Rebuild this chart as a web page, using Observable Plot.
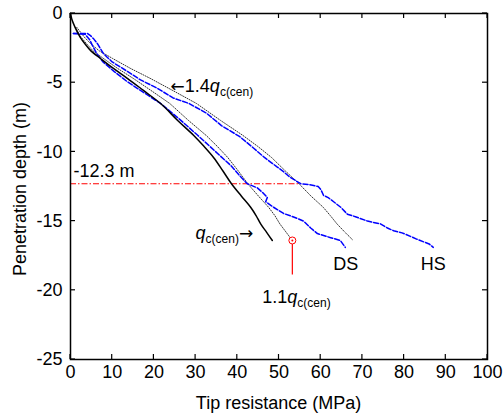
<!DOCTYPE html>
<html><head><meta charset="utf-8">
<script src="https://cdn.jsdelivr.net/npm/d3@7"></script>
<script src="https://cdn.jsdelivr.net/npm/@observablehq/plot@0.6"></script>
<style>html,body{margin:0;padding:0;background:#fff}</style>
</head><body><div id="chart"></div>
<script>
// axis ticks
const xTicks = [0,10,20,30,40,50,60,70,80,90,100];
const yTicks = [0,-5,-10,-15,-20,-25];

// qc(cen) (black solid)
const qcDepth = [0,-0.4,-1.0,-1.7,-2.2,-2.7,-3.25,-3.97,-4.7,-5.56,-6.5,-7.73,-8.8,-9.6,-10.4,-11.4,-12.3,-13.2,-14.0,-14.6,-15.2,-15.8,-16.4];
const qcCen   = [0,0.3,1.1,2.3,3.5,4.9,7.2,10.3,13.7,17.5,21.6,25.7,29.5,32.0,34.3,36.6,38.6,41.0,43.2,44.5,45.6,47.0,48.4];

// 1.4 qc(cen) and 1.1 qc(cen) (dotted)
const qfDepth = [-1.0,-1.7,-2.2,-2.7,-3.25,-3.97,-4.7,-5.56,-6.5,-7.73,-8.8,-9.6,-10.4,-11.4,-12.3,-13.2,-14.0,-14.6,-15.2,-15.8,-16.4];
const q14 = [1.5,3.3,4.9,6.9,10.1,14.4,19.2,24.5,30.2,36.0,41.3,44.9,48.2,51.6,54.8,57.7,60.6,62.3,63.9,65.8,67.8];
const q11 = [1.2,2.5,3.9,5.4,7.9,11.3,15.1,19.3,23.8,28.3,32.5,35.2,37.7,40.3,42.5,45.1,47.5,49.0,50.2,51.7,53.2];

// HS (blue dashed)
const hsX = [0.7,4.1,4.8,5.6,6.5,7.9,10.0,13.2,16.8,20.8,24.6,28.4,32.6,36.2,40.6,43.8,46.5,49.6,51.0,52.5,55.2,57.0,59.4,60.0,60.7,61.8,63.1,64.8,66.4,68.5,71.2,74.3,76.0,77.5,79.5,81.5,83.0,84.7,86.0,87.0];
const hsY = [-1.45,-1.45,-1.6,-1.85,-2.2,-2.9,-3.5,-4.1,-4.8,-5.4,-6.1,-6.5,-7.2,-8.1,-8.9,-9.7,-10.4,-11.1,-11.4,-11.8,-12.3,-12.35,-12.5,-12.7,-13.15,-13.3,-13.6,-14.0,-14.5,-14.7,-15.0,-15.2,-15.5,-15.7,-15.85,-16.1,-16.3,-16.5,-16.65,-16.9];

// DS (blue dashed)
const dsX = [0.7,3.5,4.6,5.4,6.3,7.8,10.5,13.5,17.5,21.6,26.0,30.5,34.5,38.5,40.5,42.4,44.8,46.3,47.2,46.8,48.7,51.1,53.5,55.9,57.6,59.2,62.4,64.7,65.9];
const dsY = [-1.45,-1.5,-1.9,-2.4,-2.9,-3.5,-4.2,-4.9,-5.7,-6.5,-7.6,-8.8,-9.9,-11.0,-11.7,-12.3,-12.6,-13.0,-13.3,-13.6,-14.0,-14.45,-14.7,-15.0,-15.5,-15.9,-16.2,-16.4,-16.9];

// critical depth line and leader
const critDepth = [-12.3];
const critEnd = [55.3];
const leaderDepth = [-18.9];

// annotation labels
const labelText   = ["←1.4q_c(cen)", "q_c(cen)→", "1.1q_c(cen)", "DS", "HS", "-12.3 m"];
const labelX      = [24.0, 43.8, 54.2, 66.0, 87.0, 0.7];
const labelY      = [-5.27, -15.9, -20.5, -18.1, -18.1, -11.4];
const labelAnchor = ["start", "end", "middle", "middle", "middle", "start"];

const toPts = (xs, ys) => xs.map((x, i) => ({x, y: ys[i]}));
const qcPts = toPts(qcCen, qcDepth);
const q14Pts = toPts(q14, qfDepth);
const q11Pts = toPts(q11, qfDepth);
const hsPts = toPts(hsX, hsY);
const dsPts = toPts(dsX, dsY);
const endPt = q11Pts[q11Pts.length - 1];
const labels = labelText.map((t, i) => ({t, x: labelX[i], y: labelY[i], a: labelAnchor[i]}));
const textMarks = ["start", "middle", "end"].map(a =>
  Plot.text(labels.filter(d => d.a === a), {x: "x", y: "y", text: "t", textAnchor: a, fill: "black"}));

const plot = Plot.plot({
  width: 503, height: 417,
  marginLeft: 70, marginRight: 16, marginTop: 13, marginBottom: 58,
  style: {fontFamily: "Arial, 'Liberation Sans', sans-serif", fontSize: "18px", background: "white", color: "black"},
  x: {domain: [0, 100]},
  y: {domain: [-25, 0]},
  marks: [
    Plot.axisX(xTicks, {anchor: "bottom", tickSize: 0, tickPadding: 6, tickFormat: d => String(d), label: null}),
    Plot.axisY(yTicks, {anchor: "left", tickSize: 0, tickPadding: 8, tickFormat: d => String(d), label: null}),
    Plot.ruleY(critDepth, {y: d => d, x1: 0, x2: critEnd[0], stroke: "#ff0000", strokeWidth: 1.2, strokeDasharray: "6 2 1.5 2"}),
    Plot.line(q14Pts, {x: "x", y: "y", stroke: "#333", strokeWidth: 1, strokeDasharray: "1 1.5"}),
    Plot.line(q11Pts, {x: "x", y: "y", stroke: "#333", strokeWidth: 1, strokeDasharray: "1 1.5"}),
    Plot.line(hsPts, {x: "x", y: "y", stroke: "#0000ff", strokeWidth: 1.5, strokeDasharray: "5 2"}),
    Plot.line(dsPts, {x: "x", y: "y", stroke: "#0000ff", strokeWidth: 1.5, strokeDasharray: "5 2"}),
    Plot.line(qcPts, {x: "x", y: "y", stroke: "black", strokeWidth: 1.5, curve: "monotone-y"}),
    Plot.ruleX([endPt], {x: "x", y1: "y", y2: leaderDepth[0], stroke: "#ff0000", strokeWidth: 1.2}),
    Plot.dot([endPt], {x: "x", y: "y", r: 3.5, stroke: "#ff0000", fill: "white", strokeWidth: 1}),
    Plot.dot([endPt], {x: "x", y: "y", r: 1, fill: "#ff0000"}),
    ...textMarks,
    Plot.frame({stroke: "black", strokeWidth: 1.5})
  ]
});

// rich text for q_c(cen) labels (italic q, subscript, wide arrows)
d3.select(plot).selectAll("text").each(function() {
  const s = this.textContent;
  const i = s.indexOf("q_c(cen)");
  if (i < 0) return;
  const pre = s.slice(0, i), post = s.slice(i + 8);
  const el = d3.select(this);
  el.text(null);
  const addPlain = (str, dy) => {
    const parts = str.split(/([←→])/).filter(p => p);
    parts.forEach((p, k) => {
      const ts = el.append("tspan").text(p);
      if (p === "←" || p === "→") ts.attr("font-family", "'DejaVu Sans', sans-serif").attr("font-size", "17px");
      if (k === 0 && dy) ts.attr("dy", dy);
    });
  };
  if (pre) addPlain(pre, null);
  el.append("tspan").attr("font-style", "italic").text("q");
  el.append("tspan").attr("font-size", "12px").attr("dy", "4").text("c(cen)");
  if (post) addPlain(post, "-4");
});

// inward ticks on all four sides
const sx = plot.scale("x"), sy = plot.scale("y");
const fLeft = Math.min(...sx.range), fRight = Math.max(...sx.range);
const fTop = Math.min(...sy.range), fBottom = Math.max(...sy.range);
const tg = d3.select(plot).append("g").attr("stroke", "black").attr("stroke-width", 1.2);
const T = 5;
xTicks.forEach(t => {
  const px = sx.apply(t);
  tg.append("line").attr("x1", px).attr("x2", px).attr("y1", fBottom).attr("y2", fBottom - T);
  tg.append("line").attr("x1", px).attr("x2", px).attr("y1", fTop).attr("y2", fTop + T);
});
yTicks.forEach(t => {
  const py = sy.apply(t);
  tg.append("line").attr("y1", py).attr("y2", py).attr("x1", fLeft).attr("x2", fLeft + T);
  tg.append("line").attr("y1", py).attr("y2", py).attr("x1", fRight).attr("x2", fRight - T);
});

// axis titles
const sel = d3.select(plot);
sel.append("text").attr("x", (fLeft + fRight) / 2).attr("y", 409).attr("text-anchor", "middle").attr("fill", "black").text("Tip resistance (MPa)");
sel.append("text").attr("transform", `translate(26,${(fTop + fBottom) / 2 + 3}) rotate(-90)`).attr("text-anchor", "middle").attr("fill", "black").text("Penetration depth (m)");

document.getElementById("chart").appendChild(plot);
</script>
</body></html>
